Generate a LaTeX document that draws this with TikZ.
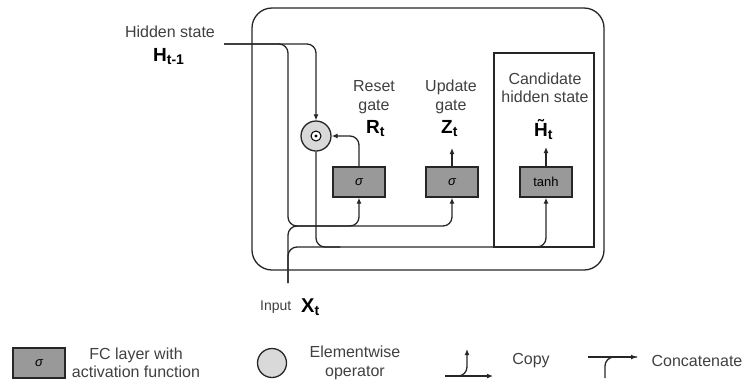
\documentclass[tikz,border=0pt]{standalone}
\usepackage{fontspec}
\setmainfont{Liberation Sans}
\usetikzlibrary{arrows.meta}
\tikzset{
    wire/.style={draw=black!85, line width=1.3pt, rounded corners=9pt},
    arr/.style={-{Latex[length=6pt,width=5pt]}},
    fcbox/.style={draw=black!85, line width=1.4pt, fill=black!40, minimum width=52pt,
        minimum height=30pt, inner sep=0pt, font=\fontsize{13}{13}\selectfont},
    opcirc/.style={circle, draw=black!85, line width=1.3pt, fill=black!15,
        minimum size=30pt, inner sep=0pt},
    lbl/.style={text=black!75, font=\fontsize{16}{18.5}\selectfont, align=center, inner sep=0pt},
    sym/.style={font=\fontsize{19}{19}\selectfont\bfseries, inner sep=0pt, anchor=base west},
}
\newcommand{\gsub}[2]{#1\raisebox{-0.3ex}{\fontsize{14}{14}\selectfont #2}}

\begin{document}
\begin{tikzpicture}[x=1pt,y=-1pt]
    \useasboundingbox (0,0) rectangle (747,381);

    % GRU cell frame
    \draw[draw=black!85, line width=1.3pt, rounded corners=20pt] (252,8) rectangle (604,270);
    \draw[draw=black!85, line width=1.3pt] (494,53) rectangle (594,247);

    % gates
    \node[opcirc] (mul) at (316,136) {};
    \draw[line width=1pt, fill=white] (mul.center) circle (5pt);
    \fill (mul.center) circle (1.6pt);
    \node[fcbox] (rst) at (359,182) {\itshape σ};
    \node[fcbox] (upd) at (452,182) {\itshape σ};
    \node[fcbox] (tnh) at (546,182) {tanh};

    % labels
    \node[lbl] (hlbl) at (170,32) {Hidden state};
    \node[sym] (hprev) at (153,61) {\gsub{H}{t-1}};
    \node[lbl] (rlbl) at (374,97) {Reset\\gate};
    \node[sym] (rt) at (366,133) {\gsub{R}{t}};
    \node[lbl] (zlbl) at (451,97) {Update\\gate};
    \node[sym] (zt) at (441,133) {\gsub{Z}{t}};
    \node[lbl] (clbl) at (545,88) {Candidate\\hidden state};
    \node[sym] (ht) at (534,136) {\gsub{\~{H}}{t}};
    \node[lbl, anchor=base west, font=\fontsize{14}{14}\selectfont] (xlbl) at (260,310) {Input};
    \node[sym, font=\fontsize{20}{20}\selectfont\bfseries] (xt) at (301,312) {\gsub{X}{t}};

    % wires
    \coordinate (hin) at (224,44);
    \coordinate (xin) at (288,283);
    \coordinate (jh) at (288,226);
    \coordinate (bus) at (330,226);
    \coordinate (cbus) at (340,247);
    \coordinate (ztip) at (452,148);
    \coordinate (htip) at (546,147);
    \draw[wire,arr] (hin) -| (mul.north);
    \draw[wire] (hin) -| (jh) -- (bus);
    \draw[wire] (xin) |- (bus);
    \draw[wire,arr] (bus) -| (rst.south);
    \draw[wire,arr] (bus) -| (upd.south);
    \draw[wire] (xin) |- (cbus);
    \draw[wire] (mul.south) |- (cbus);
    \draw[wire,arr] (cbus) -| (tnh.south);
    \draw[wire,arr] (rst.north) |- (mul.east);
    \draw[wire,arr] (upd.north) -- (ztip);
    \draw[wire,arr] (tnh.north) -- (htip);

    % legend
    \node[fcbox] (lfc) at (39,363) {\itshape σ};
    \node[lbl] (lfct) at (136,363) {FC layer with\\activation function};
    \node[opcirc, minimum size=29pt] (lop) at (272,363) {};
    \node[lbl] (lopt) at (355,363) {Elementwise\\operator};
    \coordinate (cpa) at (445,376);
    \coordinate (cpb) at (493,376);
    \coordinate (cpc) at (467,349);
    \draw[wire,arr] (cpa) -- (cpb);
    \draw[wire,arr] (cpa) -| (cpc);
    \node[lbl] (lcpt) at (531,361) {Copy};
    \coordinate (cca) at (588,357);
    \coordinate (ccb) at (637,357);
    \coordinate (ccc) at (605,378);
    \draw[wire,arr] (cca) -- (ccb);
    \draw[wire] (ccc) |- (ccb);
    \node[lbl] (lcct) at (697,361) {Concatenate};
\end{tikzpicture}
\end{document}
